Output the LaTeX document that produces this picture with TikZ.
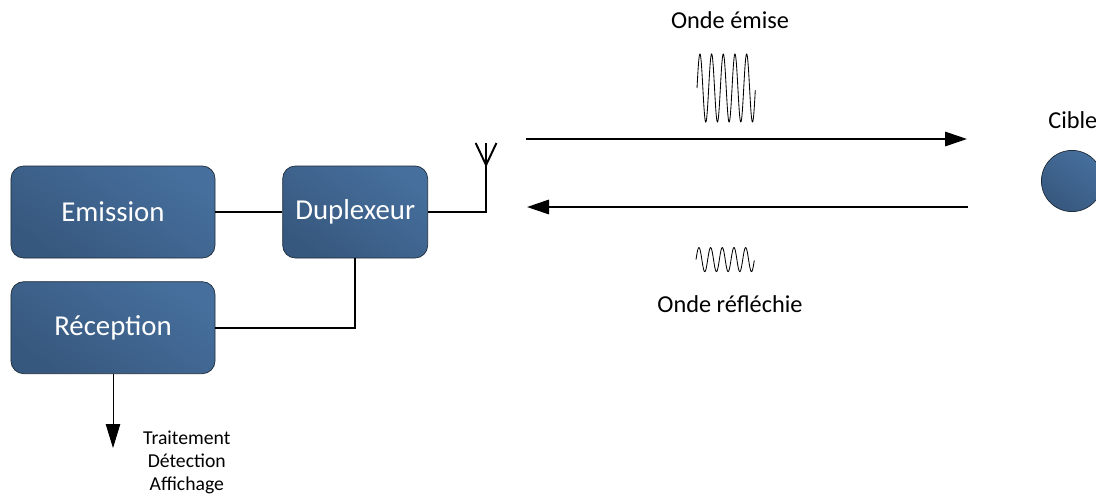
\documentclass[tikz,border=0pt]{standalone}
\usepackage{fontspec}
\setmainfont{Carlito}
\usetikzlibrary{positioning,arrows.meta}
\definecolor{boxlight}{HTML}{466F9D}
\definecolor{boxdark}{HTML}{37587E}
\definecolor{boxline}{HTML}{1E2B3A}
\tikzset{
  box/.style = {rectangle, draw=boxline, line width=.5pt, rounded corners=9pt,
                top color=boxlight, bottom color=boxdark, shading angle=-35,
                minimum width=5.1cm, minimum height=2.3cm, inner sep=0pt,
                align=center, text=white, font=\fontsize{20.5}{24}\selectfont},
  target/.style = {box, circle, minimum width=1.53cm, minimum height=0pt},
  lab/.style  = {font=\fontsize{17.3}{20}\selectfont, inner sep=0pt},
  sortielab/.style  = {font=\fontsize{14}{16.4}\selectfont, inner sep=0pt, align=center},
  wire/.style = {line width=1.4pt},
  arr/.style  = {wire, -{Stealth[length=5.5mm,width=3.6mm,inset=0pt]}},
  outarr/.style = {line width=.7pt, -{Stealth[length=6mm,width=3.6mm,inset=0pt]}},
  wave/.style = {line width=.6pt, smooth, samples=301}
}
\begin{document}
\begin{tikzpicture}
  \useasboundingbox (0,0) rectangle (27.4,-12.375);

  \node[box] (emis) at (2.825,-5.3) {Emission};
  \node[box,minimum width=3.625cm,right=1.675cm of emis] (dupl) {Duplexeur};
  \node[box,below=.575cm of emis] (recp) {Réception};
  \node[target] (cible) at (26.8,-4.525) {};
  \node[lab,above=.53cm of cible,xshift=.02cm] (ciblelab) {Cible};

  % antenne
  \coordinate[right=1.45cm of dupl] (ant);
  \coordinate[above=1.175cm of ant] (antfork);
  \coordinate[above=1.725cm of ant] (anttop);
  \coordinate[left=.26cm of anttop] (antl);
  \coordinate[right=.26cm of anttop] (antr);
  \draw[wire](emis)--(dupl)--(ant)--(anttop);
  \draw[wire](antl)--(antfork)--(antr);
  \draw[wire](dupl.south)|-(recp.east);

  % ondes
  \coordinate (txa) at (13.15,-3.475);
  \coordinate (txb) at (24.175,-3.475);
  \coordinate (rxa) at (24.2,-5.175);
  \coordinate (rxb) at (13.175,-5.175);
  \draw[arr](txa)--(txb);
  \draw[arr](rxa)--(rxb);
  \draw[wave,domain=0:1] plot ({17.425+1.46*\x},{-2.2+.85*sin(1800*\x)});
  \draw[wave,domain=0:1] plot ({17.4+1.46*\x},{-6.49+.3*sin(1800*\x)});
  \node[lab] (emise) at (18.25,-.5) {Onde émise};
  \node[lab] (reflechie) at (18.25,-7.6) {Onde réfléchie};

  % sortie
  \coordinate[below=1.85cm of recp] (sortie);
  \draw[outarr](recp)--(sortie);
  \node[sortielab] (trait) at (4.67,-11.55) {Traitement\\Détection\\Affichage};
\end{tikzpicture}
\end{document}
